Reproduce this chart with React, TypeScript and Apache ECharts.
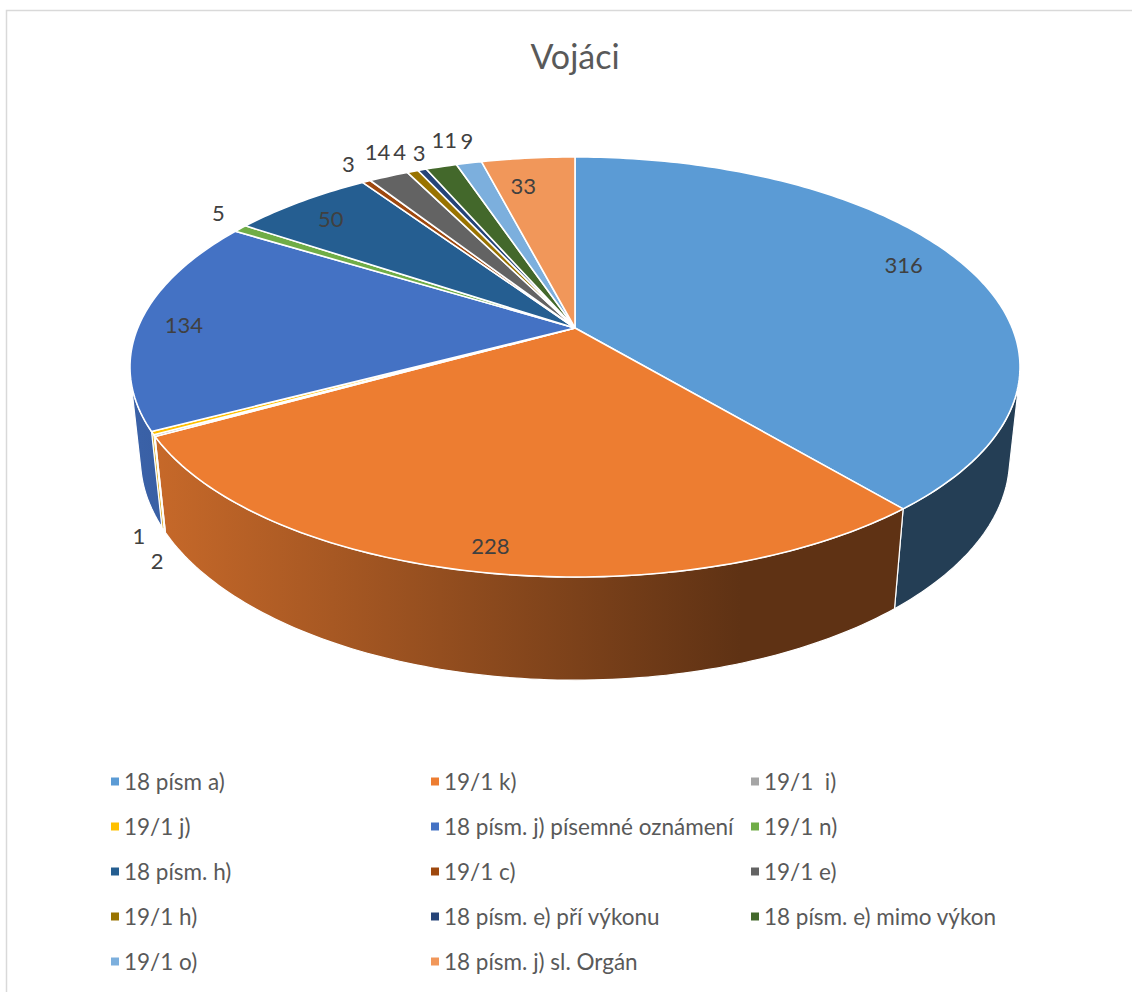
import React, { useEffect, useRef } from "react";
import * as echarts from "echarts";

// ---- data ----
const categories = [
  "18 písm a)",
  "19/1 k)",
  "19/1  i)",
  "19/1 j)",
  "18 písm. j) písemné oznámení",
  "19/1 n)",
  "18 písm. h)",
  "19/1 c)",
  "19/1 e)",
  "19/1 h)",
  "18 písm. e) pří výkonu",
  "18 písm. e) mimo výkon",
  "19/1 o)",
  "18 písm. j) sl. Orgán",
];
const values = [316, 228, 1, 2, 134, 5, 50, 3, 14, 4, 3, 11, 9, 33];
const colors = [
  "#5B9BD5", "#ED7D31", "#A5A5A5", "#FFC000", "#4472C4", "#70AD47", "#255E91",
  "#9E480E", "#636363", "#997300", "#264478", "#43682B", "#7CAFDD", "#F1975A",
];
const title = "Vojáci";

// ---- 3D projection layout ----
const CX = 575;
const CY = 328;
const FOCAL = 2086.7;
const DIST = 4.772;
const TILT = (27.63 * Math.PI) / 180;
const THICK = 0.2378;
const C = Math.cos(TILT);
const S = Math.sin(TILT);
const INSIDE_R = 0.87;
// label nudges in px (inside labels: from r=INSIDE_R point; outside: from slice edge point)
const LABEL_NUDGE: Record<number, [number, number]> = {
  0: [-10, -6],
  1: [-3, 11],
  2: [-26, 4],
  3: [-6, 31],
  4: [-13, 2],
  5: [-22, -16],
  6: [-2, 2],
  7: [-18, -18],
  8: [-11, -25],
  9: [-13, -20],
  10: [-3, -17],
  11: [3, -27],
  12: [-2, -23],
  13: [-10, 8],
};

function project(x: number, y: number, z: number): [number, number] {
  const d = y * C - z * S + DIST;
  return [CX + (FOCAL * x) / d, CY - (FOCAL * (y * S + z * C)) / d];
}

function shade(hex: string, k: number) {
  const n = parseInt(hex.slice(1), 16);
  const r = Math.round(((n >> 16) & 255) * k);
  const g = Math.round(((n >> 8) & 255) * k);
  const b = Math.round((n & 255) * k);
  return `rgb(${r},${g},${b})`;
}

const total = values.reduce((a, b) => a + b, 0);
const cum: number[] = [0];
values.forEach((v, i) => cum.push(cum[i] + v));

const WALL_MIN = Math.acos(-1 / (DIST * C));
const WALL_MAX = 2 * Math.PI - WALL_MIN;

function arc(a0: number, a1: number, r: number, z: number) {
  const n = Math.max(2, Math.ceil((a1 - a0) / (Math.PI / 180)));
  const pts: [number, number][] = [];
  for (let k = 0; k <= n; k++) {
    const t = a0 + ((a1 - a0) * k) / n;
    pts.push(project(r * Math.sin(t), r * Math.cos(t), z));
  }
  return pts;
}

const labelFont = { fontFamily: "Lato", fontSize: 22, fill: "#404040" };

function renderItem(params: any) {
  const i = params.dataIndex;
  const a0 = (cum[i] / total) * Math.PI * 2;
  const a1 = (cum[i + 1] / total) * Math.PI * 2;
  const color = colors[i];
  const children: any[] = [];

  // top face
  const top = [project(0, 0, 0), ...arc(a0, a1, 1, 0)];
  children.push({
    type: "polygon",
    z2: 10,
    shape: { points: top },
    style: { fill: color, stroke: "#ffffff", lineWidth: 1.6, lineJoin: "round" },
  });

  // outer wall (front-facing part only)
  const w0 = Math.max(a0, WALL_MIN);
  const w1 = Math.min(a1, WALL_MAX);
  if (w1 > w0) {
    const upper = arc(w0, w1, 1, 0);
    const lower = arc(w0, w1, 1, -THICK).reverse();
    children.push({
      type: "polygon",
      z2: 1,
      shape: { points: [...upper, ...lower] },
      style: {
        fill: {
          type: "linear",
          x: 140,
          y: 0,
          x2: 740,
          y2: 0,
          global: true,
          colorStops: [
            { offset: 0, color: shade(color, 0.85) },
            { offset: 1, color: shade(color, 0.4) },
          ],
        },
        stroke: "#ffffff",
        lineWidth: 1.2,
      },
    });
  }

  // data label
  const mid = (a0 + a1) / 2;
  const span = ((a1 - a0) * 180) / Math.PI;
  let lx: number;
  let ly: number;
  if (span > 10) {
    [lx, ly] = project(INSIDE_R * Math.sin(mid), INSIDE_R * Math.cos(mid), 0);
  } else {
    const front = mid > WALL_MIN && mid < WALL_MAX;
    [lx, ly] = project(Math.sin(mid), Math.cos(mid), front ? -THICK : 0);
  }
  const nudge = LABEL_NUDGE[i] || [0, 0];
  children.push({
    type: "text",
    z2: 30,
    x: lx + nudge[0],
    y: ly + nudge[1],
    style: {
      text: String(values[i]),
      ...labelFont,
      align: "center",
      verticalAlign: "middle",
    },
  });

  return { type: "group", children };
}

const legendText = {
  fontFamily: "Lato",
  fontSize: 22.5,
  color: "#595959",
  lineHeight: 27,
};

const legends = [0, 1, 2].map((col) => ({
  orient: "vertical",
  left: 111 + 320 * col,
  top: 768,
  padding: 0,
  itemGap: 18,
  itemWidth: 8,
  itemHeight: 8,
  icon: "rect",
  selectedMode: false,
  data: categories.filter((_, i) => i % 3 === col),
  textStyle: legendText,
}));

export default function App() {
  const ref = useRef<HTMLDivElement>(null);
  useEffect(() => {
    const chart = echarts.init(ref.current!, null, { renderer: "svg" });
    chart.setOption({
      animation: false,
      backgroundColor: "#ffffff",
      legend: legends,
      graphic: [
        {
          type: "rect",
          shape: { x: 6.5, y: 10.5, width: 1200, height: 1100 },
          style: { fill: "none", stroke: "#D9D9D9", lineWidth: 1.5 },
          silent: true,
        },
        {
          type: "text",
          x: 575,
          y: 55,
          silent: true,
          style: {
            text: title,
            fontFamily: "Lato",
            fontSize: 34,
            fill: "#595959",
            align: "center",
            verticalAlign: "middle",
          },
        },
      ],
      series: [
        {
          type: "custom",
          coordinateSystem: "none",
          silent: true,
          renderItem,
          data: values,
        },
        {
          type: "pie",
          radius: [0, 0],
          center: [-50, -50],
          silent: true,
          label: { show: false },
          labelLine: { show: false },
          data: categories.map((name, i) => ({
            name,
            value: values[i],
            itemStyle: { color: colors[i] },
          })),
        },
      ],
    });
    return () => chart.dispose();
  }, []);
  return (
    <div
      ref={ref}
      style={{ position: "absolute", left: 0, top: 0, width: 1132, height: 992 }}
    />
  );
}
